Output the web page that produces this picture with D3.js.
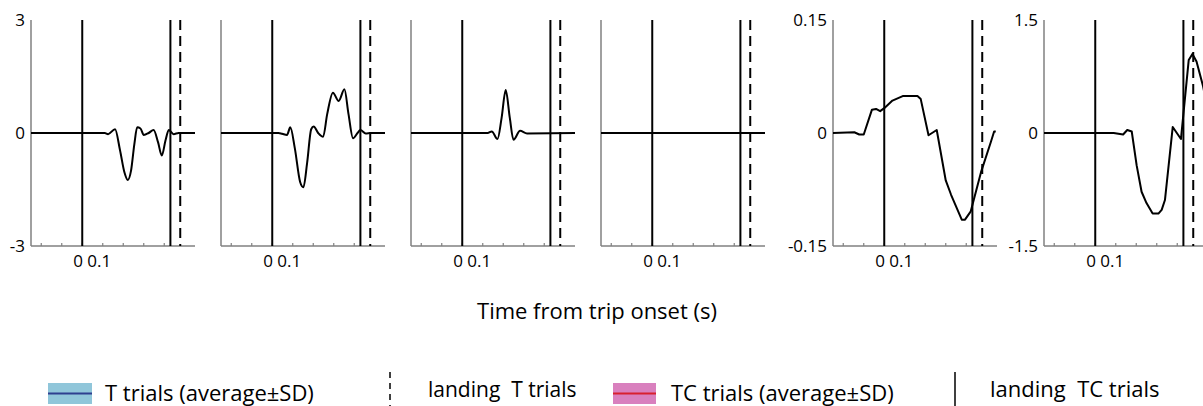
<!DOCTYPE html>
<html>
<head>
<meta charset="utf-8">
<script src="https://cdn.jsdelivr.net/npm/d3@7"></script>
<style>
  body { margin: 0; background: #fff; }
  svg { display: block; font-family: "Open Sans", sans-serif; }
</style>
</head>
<body>
<svg width="1203" height="406"></svg>
<script>
// time (s) and mean curve per panel
var t1 = [-0.125, 0.055, 0.063, 0.080, 0.092, 0.103, 0.111, 0.119, 0.127, 0.134, 0.142, 0.150, 0.162, 0.174, 0.185, 0.194, 0.203, 0.211, 0.223, 0.235, 0.275];
var v1 = [0, 0, -0.03, 0.10, -0.45, -1.05, -1.25, -1.0, -0.3, 0.15, 0.12, -0.05, 0.0, 0.08, -0.25, -0.6, -0.2, 0.08, -0.03, 0, 0];

var t2 = [-0.125, 0.015, 0.024, 0.036, 0.044, 0.055, 0.068, 0.076, 0.085, 0.095, 0.101, 0.112, 0.124, 0.134, 0.148, 0.162, 0.176, 0.186, 0.197, 0.208, 0.215, 0.228, 0.240, 0.275];
var v2 = [0, 0, -0.02, -0.05, 0.15, -0.4, -1.3, -1.44, -0.8, 0.1, 0.17, 0.0, -0.1, 0.5, 1.07, 0.85, 1.16, 0.5, -0.14, 0.0, 0.08, -0.01, 0, 0];

var t3 = [-0.125, 0.062, 0.072, 0.086, 0.096, 0.106, 0.116, 0.125, 0.141, 0.158, 0.275];
var v3 = [0, 0, 0.04, -0.16, 0.4, 1.14, 0.4, -0.18, 0.06, -0.01, 0];

var t4 = [-0.125, 0.275];
var v4 = [0, 0];

var t5 = [-0.125, -0.073, -0.061, -0.050, -0.030, -0.020, -0.010, 0.000, 0.020, 0.045, 0.065, 0.081, 0.089, 0.108, 0.128, 0.150, 0.163, 0.189, 0.197, 0.211, 0.236, 0.260, 0.268, 0.272];
var v5 = [0, 0.001, -0.002, -0.002, 0.031, 0.032, 0.029, 0.033, 0.043, 0.049, 0.049, 0.049, 0.045, -0.003, 0.004, -0.063, -0.082, -0.115, -0.115, -0.104, -0.052, -0.012, 0.002, 0.002];

var t6 = [-0.125, 0.045, 0.068, 0.078, 0.089, 0.101, 0.113, 0.125, 0.140, 0.154, 0.162, 0.170, 0.189, 0.209, 0.215, 0.228, 0.237, 0.247, 0.263, 0.275];
var v6 = [0, 0, -0.02, 0.04, 0.02, -0.43, -0.78, -0.93, -1.07, -1.07, -1.02, -0.89, 0.08, -0.08, 0.25, 0.97, 1.05, 0.95, 0.62, 0.30];

var yMax = [3, 3, 3, 3, 0.15, 1.5];
var yLabels = [["-3", "0", "3"], null, null, null, ["-0.15", "0", "0.15"], ["-1.5", "0", "1.5"]];
var xTicks = [-0.1, -0.05, 0, 0.05, 0.1, 0.15, 0.2];
var landingT = 0.239;   // dashed
var landingTC = 0.215;  // solid

var panels = [
  { t: t1, v: v1, smooth: true },
  { t: t2, v: v2, smooth: true },
  { t: t3, v: v3, smooth: true },
  { t: t4, v: v4, smooth: true },
  { t: t5, v: v5, smooth: false },
  { t: t6, v: v6, smooth: false }
];

var svg = d3.select("svg");
var lefts = [31, 221, 411, 601, 833, 1044];
var pw = 164, plotTop = 20, plotBottom = 246;
var axisGray = "#808080";

var x = d3.scaleLinear().domain([-0.125, 0.275]).range([0, pw]);

panels.forEach(function(p, i) {
  var g = svg.append("g").attr("transform", "translate(" + lefts[i] + ",0)");
  var y = d3.scaleLinear().domain([-yMax[i], yMax[i]]).range([plotBottom, plotTop]);

  // axes
  g.append("line").attr("x1", 0).attr("x2", 0).attr("y1", plotTop).attr("y2", plotBottom)
    .attr("stroke", axisGray).attr("stroke-width", 1.5);
  g.append("line").attr("x1", 0).attr("x2", pw).attr("y1", plotBottom).attr("y2", plotBottom)
    .attr("stroke", axisGray).attr("stroke-width", 1.5);
  g.selectAll(".xt").data(xTicks).enter().append("line")
    .attr("x1", function(d) { return x(d); }).attr("x2", function(d) { return x(d); })
    .attr("y1", plotBottom).attr("y2", plotBottom - 3)
    .attr("stroke", axisGray).attr("stroke-width", 1.2);

  g.append("text").attr("x", x(0) + 10).attr("y", plotBottom + 21)
    .attr("text-anchor", "middle").attr("font-size", 17).text("0 0.1");

  if (yLabels[i]) {
    var vals = [-yMax[i], 0, yMax[i]];
    g.selectAll(".yl").data(vals).enter().append("text")
      .attr("x", -6).attr("y", function(d) { return y(d); })
      .attr("dy", "0.35em").attr("text-anchor", "end").attr("font-size", 17)
      .text(function(d, k) { return yLabels[i][k]; });
  }

  // event lines
  g.append("line").attr("x1", x(0)).attr("x2", x(0)).attr("y1", plotTop).attr("y2", plotBottom)
    .attr("stroke", "#000").attr("stroke-width", 2);
  g.append("line").attr("x1", x(landingTC)).attr("x2", x(landingTC)).attr("y1", plotTop).attr("y2", plotBottom)
    .attr("stroke", "#000").attr("stroke-width", 2);
  g.append("line").attr("x1", x(landingT)).attr("x2", x(landingT)).attr("y1", plotTop).attr("y2", plotBottom)
    .attr("stroke", "#000").attr("stroke-width", 2).attr("stroke-dasharray", "10,6");

  var line = d3.line()
    .x(function(d) { return x(d[0]); })
    .y(function(d) { return y(d[1]); })
    .curve(p.smooth ? d3.curveMonotoneX : d3.curveLinear);

  g.append("path").datum(d3.zip(p.t, p.v))
    .attr("d", line).attr("fill", "none")
    .attr("stroke", "#000").attr("stroke-width", 2).attr("stroke-linejoin", "round");
});

svg.append("text").attr("x", 597).attr("y", 319).attr("text-anchor", "middle")
  .attr("font-size", 22).text("Time from trip onset (s)");

// legend
var lg = svg.append("g");
lg.append("rect").attr("x", 48).attr("y", 383).attr("width", 44).attr("height", 21).attr("fill", "#90c6da");
lg.append("line").attr("x1", 48).attr("x2", 92).attr("y1", 393.5).attr("y2", 393.5).attr("stroke", "#2e3f8f").attr("stroke-width", 2);
lg.append("text").attr("x", 105).attr("y", 401).attr("font-size", 22).text("T trials (average\u00b1SD)");

lg.append("line").attr("x1", 390).attr("x2", 390).attr("y1", 372).attr("y2", 406)
  .attr("stroke", "#000").attr("stroke-width", 1.5).attr("stroke-dasharray", "6,5");
lg.append("text").attr("x", 428).attr("y", 397).attr("font-size", 21).attr("xml:space", "preserve").text("landing  T trials");

lg.append("rect").attr("x", 613).attr("y", 383).attr("width", 43).attr("height", 21).attr("fill", "#d980be");
lg.append("line").attr("x1", 613).attr("x2", 656).attr("y1", 393.5).attr("y2", 393.5).attr("stroke", "#d8202e").attr("stroke-width", 2);
lg.append("text").attr("x", 671).attr("y", 401).attr("font-size", 22).text("TC trials (average\u00b1SD)");

lg.append("line").attr("x1", 955).attr("x2", 955).attr("y1", 372).attr("y2", 406)
  .attr("stroke", "#000").attr("stroke-width", 1.5);
lg.append("text").attr("x", 990).attr("y", 397).attr("font-size", 22).attr("xml:space", "preserve").text("landing  TC trials");
</script>
</body>
</html>
